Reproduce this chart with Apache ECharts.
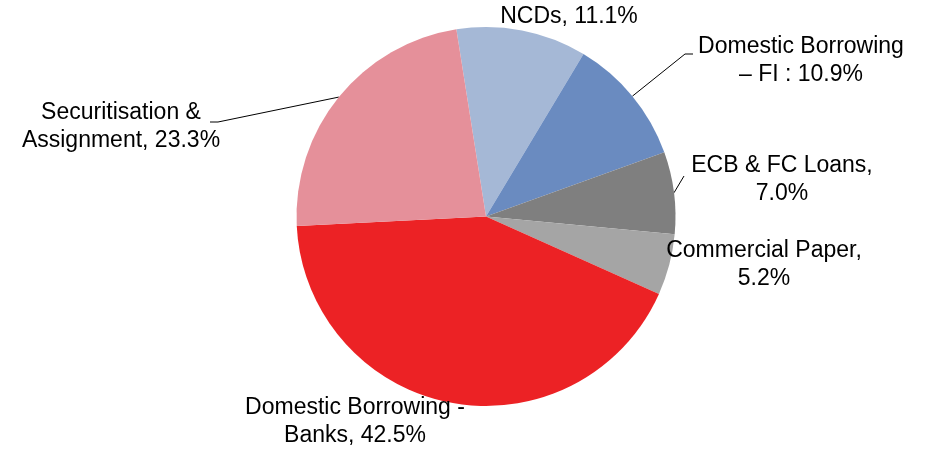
<!DOCTYPE html>
<html>
<head>
<meta charset="utf-8">
<script src="https://cdn.jsdelivr.net/npm/echarts@6/dist/echarts.min.js"></script>
<style>
  html, body { margin: 0; padding: 0; background: #fff; }
  #chart { width: 932px; height: 450px; }
</style>
</head>
<body>
<div id="chart"></div>
<script>
// slices, clockwise from NCDs
const names = ['NCDs', 'Domestic Borrowing – FI', 'ECB & FC Loans', 'Commercial Paper', 'Domestic Borrowing - Banks', 'Securitisation & Assignment'];
const shares = [11.1, 10.9, 7.0, 5.2, 42.5, 23.3];
const labels = [
  'NCDs, 11.1%',
  'Domestic Borrowing\n– FI : 10.9%',
  'ECB & FC Loans,\n7.0%',
  'Commercial Paper,\n5.2%',
  'Domestic Borrowing -\nBanks, 42.5%',
  'Securitisation &\nAssignment, 23.3%'
];
const colors = ['#a5b8d6', '#6a8bc0', '#7f7f7f', '#a5a5a5', '#ec2225', '#e5909a'];

// label centres and leader-line elbows (null = no line)
const labelPos = [[569, 17], [801, 61], [782, 180], [764, 265], [355, 422], [121, 127]];
const elbows = [null, [[685, 54], [693, 54]], [[684, 176]], null, null, [[218, 122], [210, 122]]];

const myChart = echarts.init(document.getElementById('chart'));

const option = {
  animation: false,
  series: [{
    type: 'pie',
    center: [486, 216.5],
    radius: 189.5,
    startAngle: 99,
    clockwise: true,
    avoidLabelOverlap: false,
    itemStyle: { borderWidth: 0 },
    label: {
      show: true,
      color: '#000',
      fontFamily: 'Liberation Sans, Arial, sans-serif',
      fontSize: 23,
      lineHeight: 28,
      align: 'center'
    },
    labelLine: {
      show: true,
      lineStyle: { color: '#000', width: 1 }
    },
    emphasis: { disabled: true },
    data: names.map((n, i) => ({
      name: n,
      value: shares[i],
      itemStyle: { color: colors[i] },
      label: { formatter: labels[i] },
      labelLine: { show: elbows[i] !== null }
    })),
    labelLayout: function (params) {
      const i = params.dataIndex;
      const p = labelPos[i];
      const res = { x: p[0], y: p[1], align: 'center', verticalAlign: 'middle' };
      if (elbows[i] && params.labelLinePoints) {
        res.labelLinePoints = [params.labelLinePoints[0]].concat(elbows[i]);
      }
      return res;
    }
  }]
};

myChart.setOption(option);
</script>
</body>
</html>
